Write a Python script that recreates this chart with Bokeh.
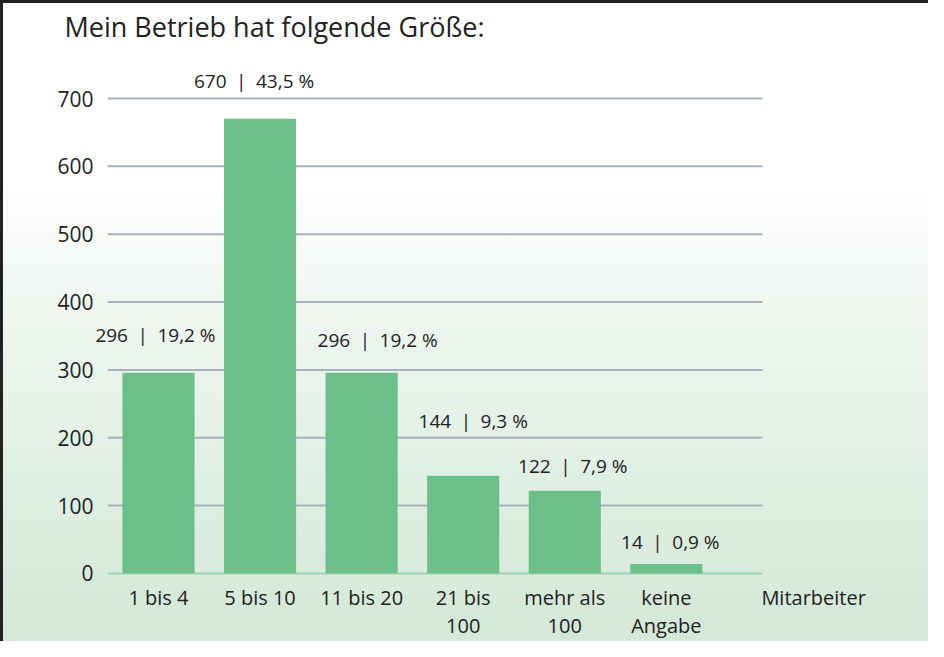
from bokeh.plotting import figure
from bokeh.models import FixedTicker, ColumnDataSource, Range1d
from bokeh.core.properties import value
from bokeh.embed import file_html
from bokeh.resources import INLINE

# ---- data ----
categories = ["1 bis 4", "5 bis 10", "11 bis 20", "21 bis\n100", "mehr als\n100", "keine\nAngabe"]
counts = [296, 670, 296, 144, 122, 14]
percents = [19.2, 43.5, 19.2, 9.3, 7.9, 0.9]
y_ticks = [0, 100, 200, 300, 400, 500, 600, 700]
title_text = "Mein Betrieb hat folgende Größe:"
unit_text = "Mitarbeiter"

# ---- styles / layout ----
FONT = "Open Sans"
BAR_COLOR = "#6cbf88"
TEXT_COLOR = "#222222"
GRID_COLOR = "#a9b2bb"
ZERO_COLOR = "#9fd4aa"
label_dx = [-3, -6, 16, 10, 8, 4]        # px shift of value labels
label_dy = [38, 38, 33, 55, 25, 22]      # px above bar top
GRID_X0, GRID_X1 = -0.5, 5.945           # horizontal extent of grid lines
UNIT_POS = 6.45                          # axis position of the unit label

xs = list(range(len(categories)))
labels = [f"{c}\u2002|\u2002{str(p).replace('.', ',')} %" for c, p in zip(counts, percents)]

src = ColumnDataSource(dict(
    x=xs, top=counts, label=labels,
    dx=label_dx, dy=[-d for d in label_dy],
))
grid_src = ColumnDataSource(dict(
    y=y_ticks[1:],
    x0=[GRID_X0] * (len(y_ticks) - 1),
    x1=[GRID_X1] * (len(y_ticks) - 1),
))

p = figure(width=928, height=641, output_backend="svg", toolbar_location=None,
           x_range=Range1d(-0.62, 7.0), y_range=Range1d(-3, 779.6),
           min_border_left=95, min_border_right=59,
           min_border_top=44, min_border_bottom=66)

p.styles = {
    "background": "linear-gradient(to bottom, #ffffff 0%, #ffffff 28%, #eef6ef 50%, #e0efe3 75%, #d3e8d7 100%)",
    "box-shadow": "inset 3px 3px 0 0 #222222",
}
p.background_fill_alpha = 0
p.border_fill_alpha = 0
p.outline_line_color = None

# title
p.title.text = title_text
p.title.text_font = FONT
p.title.text_font_size = "27px"
p.title.text_font_style = "normal"
p.title.text_color = TEXT_COLOR
p.title.offset = -31
p.title.standoff = 0

# grid lines (limited extent)
p.segment(x0="x0", x1="x1", y0="y", y1="y", source=grid_src,
          line_color=GRID_COLOR, line_width=2, level="underlay")
p.segment(x0=[GRID_X0], x1=[GRID_X1], y0=[0], y1=[0],
          line_color=ZERO_COLOR, line_width=2, level="underlay")

# bars
p.vbar(x="x", top="top", width=0.71, bottom=0, source=src,
       fill_color=BAR_COLOR, line_color=None)

# value labels
p.text(x="x", y="top", text="label", source=src,
       x_offset="dx", y_offset="dy",
       text_font=value(FONT), text_font_size="19px", text_color=TEXT_COLOR,
       text_align="center", text_baseline="middle")

p.xgrid.visible = False
p.ygrid.visible = False

# y axis
p.yaxis.ticker = FixedTicker(ticks=y_ticks)
p.yaxis.axis_line_color = None
p.yaxis.major_tick_line_color = None
p.yaxis.minor_tick_line_color = None
p.yaxis.major_label_text_font = FONT
p.yaxis.major_label_text_font_size = "21px"
p.yaxis.major_label_text_color = TEXT_COLOR
p.yaxis.major_label_standoff = -4

# x axis
overrides = {i: c for i, c in zip(xs, categories)}
overrides[UNIT_POS] = unit_text
p.xaxis.ticker = FixedTicker(ticks=xs + [UNIT_POS])
p.xaxis.major_label_overrides = overrides
p.xaxis.axis_line_color = None
p.xaxis.major_tick_line_color = None
p.xaxis.minor_tick_line_color = None
p.xaxis.major_label_text_font = FONT
p.xaxis.major_label_text_font_size = "20px"
p.xaxis.major_label_text_color = TEXT_COLOR
p.xaxis.major_label_text_line_height = 1.05
p.xaxis.major_label_standoff = 2

open("out.html", "w").write(file_html(p, INLINE))
